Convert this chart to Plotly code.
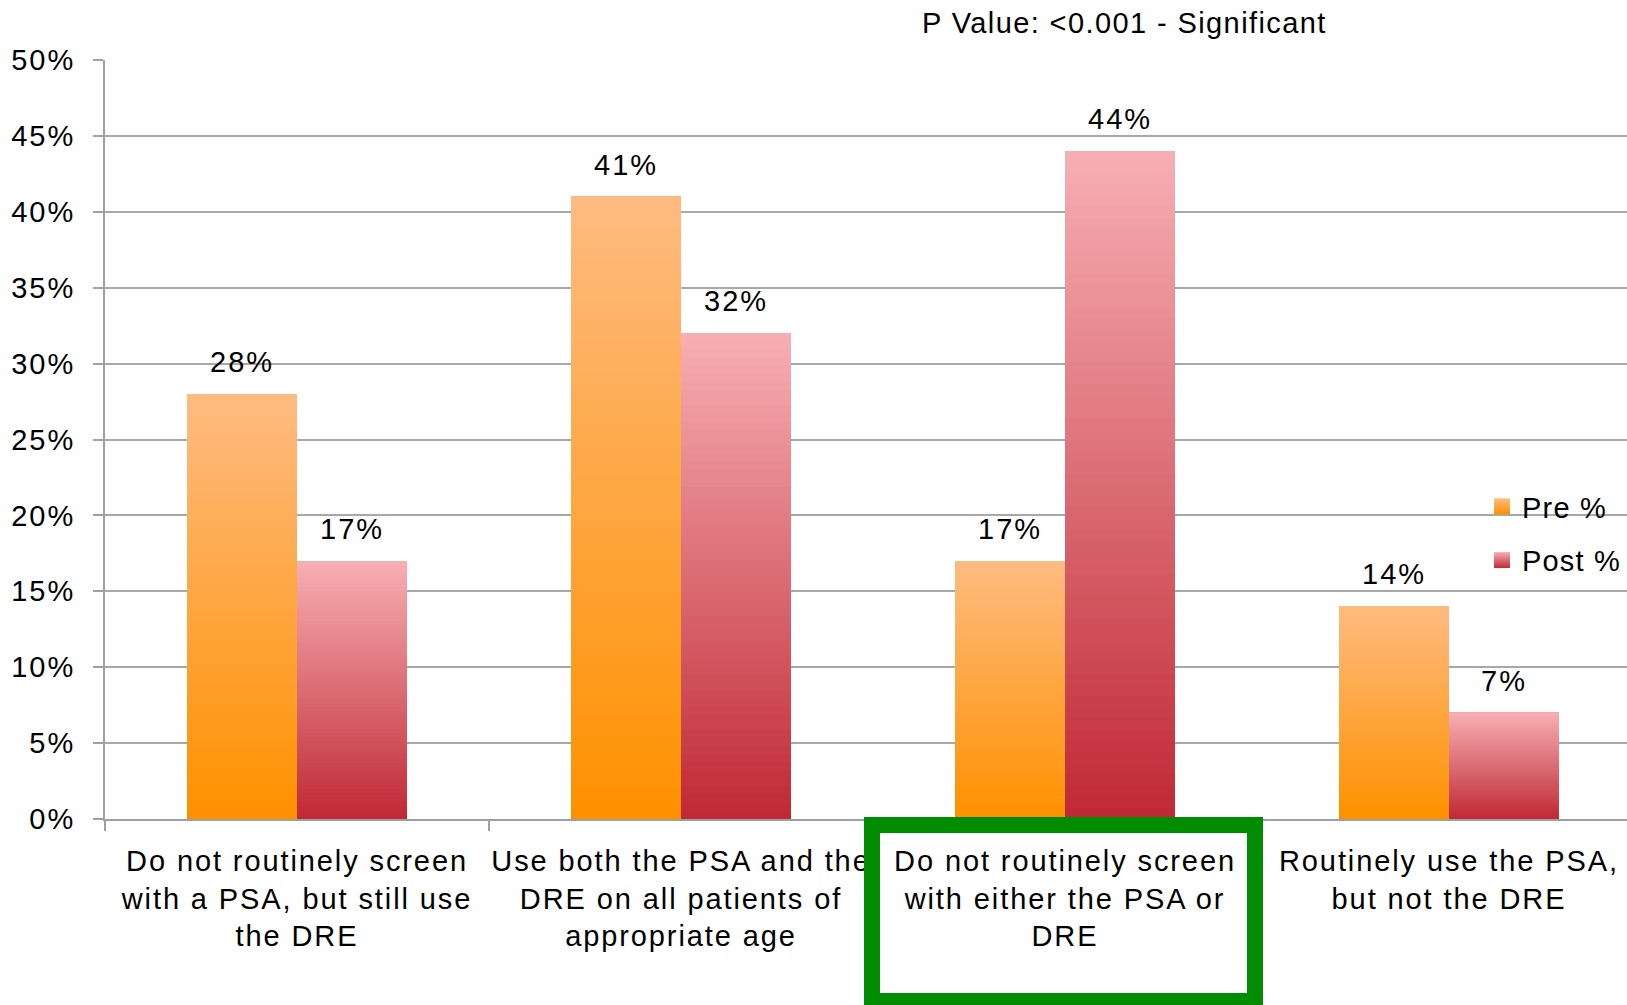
import plotly.graph_objects as go

# Survey responses on prostate screening practice, before and after
categories = [
    "Do not routinely screen<br>with a PSA, but still use<br>the DRE",
    "Use both the PSA and the<br>DRE on all patients of<br>appropriate age",
    "Do not routinely screen<br>with either the PSA or<br>DRE",
    "Routinely use the PSA,<br>but not the DRE",
]
pre_pct = [0.28, 0.41, 0.17, 0.14]
post_pct = [0.17, 0.32, 0.44, 0.07]
series_names = ["Pre %", "Post %"]
y_ticks = [0.0, 0.05, 0.10, 0.15, 0.20, 0.25, 0.30, 0.35, 0.40, 0.45, 0.50]
p_value_text = "P Value: <0.001 - Significant"

FONT = "Liberation Sans, Arial, sans-serif"
FS = 29
W, H = 1627, 1005
L, T, B = 105, 60, 186
plot_w = W - L
plot_h = H - T - B
cat_px = 384.0  # pixel width of one category slot


def spaced(text, ls=1.8):
    """Wrap every line of a label in a letter-spaced span."""
    return "<br>".join(
        "<span style='letter-spacing:%.1fpx'>%s</span>" % (ls, line)
        for line in text.split("<br>")
    )


# vertical gradients (bottom colour, top colour)
gradients = {
    "Pre %": ((255, 145, 0), (254, 187, 128)),
    "Post %": ((192, 42, 54), (247, 174, 179)),
}
N_STEPS = 60


def mix(c0, c1, t):
    return "rgb(%d,%d,%d)" % tuple(round(a + (b - a) * t) for a, b in zip(c0, c1))


fig = go.Figure()
x_idx = list(range(len(categories)))

for name, vals in zip(series_names, [pre_pct, post_pct]):
    c_bot, c_top = gradients[name]
    # each slice runs from its own base up to the bar top, so slices overlap without seams
    for k in range(N_STEPS):
        frac = k / N_STEPS
        bases = [v * frac for v in vals]
        heights = [v - b for v, b in zip(vals, bases)]
        fig.add_trace(go.Bar(
            x=categories, y=heights, base=bases,
            name=name, offsetgroup=name, legendgroup=name, showlegend=False,
            marker=dict(color=mix(c_bot, c_top, k / (N_STEPS - 1)), line=dict(width=0)),
            hoverinfo="skip",
        ))
    # legend key with the same vertical gradient
    fig.add_trace(go.Scatter(
        x=[None], y=[None], mode="markers", name=spaced(name, 1.2), legendgroup=name,
        marker=dict(symbol="square", size=16, color=mix(c_bot, c_top, 1.0),
                    gradient=dict(type="vertical", color=mix(c_bot, c_top, 0.0))),
        hoverinfo="skip",
    ))

bargap = 1 - 220 / cat_px
half = (1 - bargap) / 4

annotations = []
for i in x_idx:
    for off, vals in ((-half, pre_pct), (half, post_pct)):
        v = vals[i]
        annotations.append(dict(
            x=i + off, y=v, xref="x", yref="y",
            text=spaced("%d%%" % round(v * 100), 2.0), showarrow=False,
            yanchor="bottom", yshift=14,
            font=dict(family=FONT, size=FS, color="black"),
        ))

annotations.append(dict(
    x=(1124 - L) / plot_w, y=(H - B - 23) / plot_h, xref="paper", yref="paper",
    text=spaced(p_value_text, 1.4), showarrow=False, xanchor="center", yanchor="middle",
    font=dict(family=FONT, size=FS, color="black"),
))


def px_x(px):
    return (px - L) / plot_w


def px_y(py):
    return (H - B - py) / plot_h


shapes = [dict(
    type="rect", xref="paper", yref="paper",
    x0=px_x(872), x1=px_x(1255), y0=px_y(825), y1=px_y(1001),
    line=dict(color="#008C00", width=16), fillcolor="rgba(0,0,0,0)", layer="above",
)]

fig.update_layout(
    width=W, height=H,
    margin=dict(l=L, r=0, t=T, b=B, pad=0, autoexpand=False),
    paper_bgcolor="white", plot_bgcolor="white",
    barmode="group", bargap=bargap, bargroupgap=0,
    font=dict(family=FONT, size=FS, color="black"),
    xaxis=dict(
        type="category", categoryorder="array", categoryarray=categories,
        tickvals=categories, ticktext=[spaced(c, 1.9) for c in categories],
        range=[-0.5, -0.5 + plot_w / cat_px],
        tickangle=0, automargin=False,
        showline=True, linecolor="#A0A0A0", linewidth=2,
        ticks="outside", tickson="boundaries", ticklen=10, tickcolor="#A0A0A0", tickwidth=2,
        ticklabelstandoff=15,
        tickfont=dict(family=FONT, size=FS, color="black"),
        showgrid=False,
    ),
    yaxis=dict(
        range=[0, 0.5], tickvals=y_ticks,
        ticktext=[spaced("%d%%" % round(t * 100), 2.0) for t in y_ticks],
        automargin=False,
        showline=True, linecolor="#A0A0A0", linewidth=2,
        ticks="outside", ticklen=10, tickcolor="#A0A0A0", tickwidth=2,
        ticklabelstandoff=12,
        showgrid=True, gridcolor="#A8A8A8", gridwidth=2, zeroline=False,
        tickfont=dict(family=FONT, size=FS, color="black"),
    ),
    legend=dict(
        x=px_x(1482), y=px_y(481), xanchor="left", yanchor="top",
        bgcolor="rgba(0,0,0,0)", traceorder="grouped", tracegroupgap=13,
        font=dict(family=FONT, size=FS, color="black"),
        itemwidth=30, itemsizing="trace",
    ),
    annotations=annotations,
    shapes=shapes,
    showlegend=True,
)

fig.write_html("out.html")
